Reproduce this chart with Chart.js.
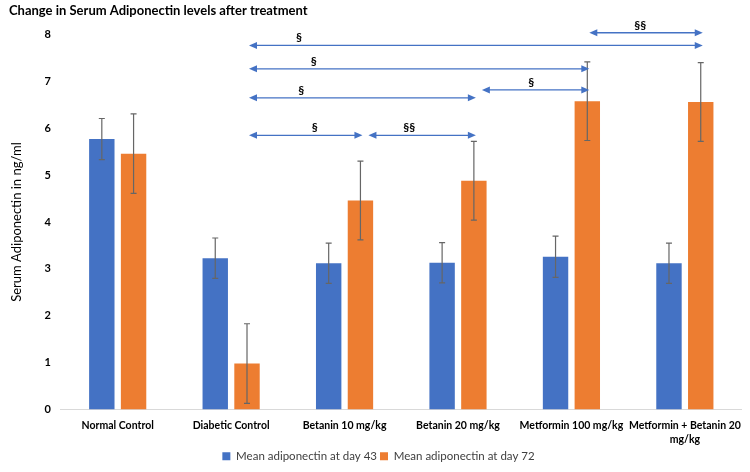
<!DOCTYPE html>
<html>
<head>
<meta charset="utf-8">
<script src="https://cdn.jsdelivr.net/npm/chart.js@4.4.0/dist/chart.umd.min.js"></script>
<style>
  body { margin: 0; background: #fff; }
</style>
</head>
<body>
<canvas id="myChart" width="750" height="472"></canvas>
<script>
'use strict';

let categories = ['Normal Control', 'Diabetic Control', 'Betanin 10 mg/kg', 'Betanin 20 mg/kg', 'Metformin 100 mg/kg', ['Metformin + Betanin 20', 'mg/kg']];
let day43 = [5.77, 3.23, 3.12, 3.13, 3.26, 3.12];
let day72 = [5.46, 0.98, 4.46, 4.88, 6.58, 6.56];
let err43 = [0.44, 0.43, 0.43, 0.43, 0.44, 0.43];
let err72 = [0.85, 0.85, 0.84, 0.84, 0.84, 0.84];

// significance arrows (between orange bars)
let sigFrom = [1, 4, 1, 1, 3, 1, 2];
let sigTo = [5, 5, 4, 3, 4, 2, 3];
let sigY = [7.77, 8.04, 7.27, 6.65, 6.82, 5.85, 5.85];
let sigLabel = ['§', '§§', '§', '§', '§', '§', '§§'];
let sigLabelPos = [0.11, 0.45, 0.19, 0.23, 0.46, 0.58, 0.38];

let fontFam = 'Lato';

let errorBars = {
  id: 'errorBars',
  afterDatasetsDraw(chart) {
    let ctx = chart.ctx;
    let y = chart.scales.y;
    let errs = [err43, err72];
    ctx.save();
    ctx.strokeStyle = '#666666';
    ctx.lineWidth = 1.2;
    for (let d = 0; d < 2; d++) {
      let meta = chart.getDatasetMeta(d);
      meta.data.forEach((bar, i) => {
        let v = chart.data.datasets[d].data[i];
        let top = y.getPixelForValue(v + errs[d][i]);
        let bot = y.getPixelForValue(v - errs[d][i]);
        ctx.beginPath();
        ctx.moveTo(bar.x, top);
        ctx.lineTo(bar.x, bot);
        ctx.moveTo(bar.x - 3, top);
        ctx.lineTo(bar.x + 3, top);
        ctx.moveTo(bar.x - 3, bot);
        ctx.lineTo(bar.x + 3, bot);
        ctx.stroke();
      });
    }
    ctx.restore();
  }
};

function arrowHead(ctx, x, y, dir) {
  ctx.beginPath();
  ctx.moveTo(x, y);
  ctx.lineTo(x - dir * 8, y - 3.5);
  ctx.lineTo(x - dir * 8, y + 3.5);
  ctx.closePath();
  ctx.fill();
}

let sigArrows = {
  id: 'sigArrows',
  afterDraw(chart) {
    let ctx = chart.ctx;
    let y = chart.scales.y;
    let meta = chart.getDatasetMeta(1);
    ctx.save();
    ctx.strokeStyle = '#4472C4';
    ctx.fillStyle = '#4472C4';
    ctx.lineWidth = 1.3;
    for (let i = 0; i < sigFrom.length; i++) {
      let x1 = meta.data[sigFrom[i]].x + 2;
      let x2 = meta.data[sigTo[i]].x + 2;
      if (sigFrom[i] === 2 || sigFrom[i] === 3 && sigTo[i] === 4) x1 += 6;
      let py = y.getPixelForValue(sigY[i]);
      ctx.beginPath();
      ctx.moveTo(x1 + 4, py);
      ctx.lineTo(x2 - 4, py);
      ctx.stroke();
      arrowHead(ctx, x1, py, -1);
      arrowHead(ctx, x2, py, 1);
      ctx.fillStyle = '#000';
      ctx.font = 'bold 12px ' + fontFam;
      ctx.textAlign = 'center';
      ctx.textBaseline = 'middle';
      ctx.fillText(sigLabel[i], x1 + (x2 - x1) * sigLabelPos[i], py - 8);
      ctx.fillStyle = '#4472C4';
    }
    ctx.restore();
  }
};

let ctx = document.getElementById('myChart').getContext('2d');
let myChart = new Chart(ctx, {
  type: 'bar',
  data: {
    labels: categories,
    datasets: [{
      label: 'Mean adiponectin at day 43',
      data: day43,
      backgroundColor: '#4472C4'
    }, {
      label: 'Mean adiponectin at day 72',
      data: day72,
      backgroundColor: '#ED7D31'
    }]
  },
  options: {
    responsive: false,
    animation: false,
    categoryPercentage: 0.56,
    barPercentage: 0.8,
    layout: { padding: { left: 9, right: 2, top: 0, bottom: 0 } },
    plugins: {
      title: {
        display: true,
        text: 'Change in Serum Adiponectin levels after treatment',
        align: 'start',
        color: '#000',
        font: { family: fontFam, size: 13, weight: 'bold' },
        padding: { top: 3, bottom: 16 }
      },
      legend: {
        position: 'bottom',
        labels: {
          boxWidth: 8,
          boxHeight: 8,
          color: '#404040',
          font: { family: fontFam, size: 11.5 },
          padding: 3
        }
      },
      tooltip: { enabled: false }
    },
    scales: {
      x: {
        grid: { display: false, drawTicks: false },
        border: { color: '#d9d9d9' },
        afterFit(scale) { scale.height = 38; },
        ticks: {
          autoSkip: false,
          color: '#000',
          font: { family: fontFam, size: 10.5, weight: 'bold', lineHeight: 1.35 },
          maxRotation: 0,
          padding: 9
        }
      },
      y: {
        min: 0,
        max: 8,
        grid: { display: false, drawTicks: false },
        border: { display: false },
        ticks: {
          stepSize: 1,
          color: '#000',
          font: { family: fontFam, size: 11, weight: 'bold' },
          padding: 10
        },
        title: {
          display: true,
          text: 'Serum Adiponectin in ng/ml',
          color: '#000',
          font: { family: fontFam, size: 13 },
          padding: { top: 0, bottom: 10 }
        }
      }
    }
  },
  plugins: [errorBars, sigArrows]
});
</script>
</body>
</html>
